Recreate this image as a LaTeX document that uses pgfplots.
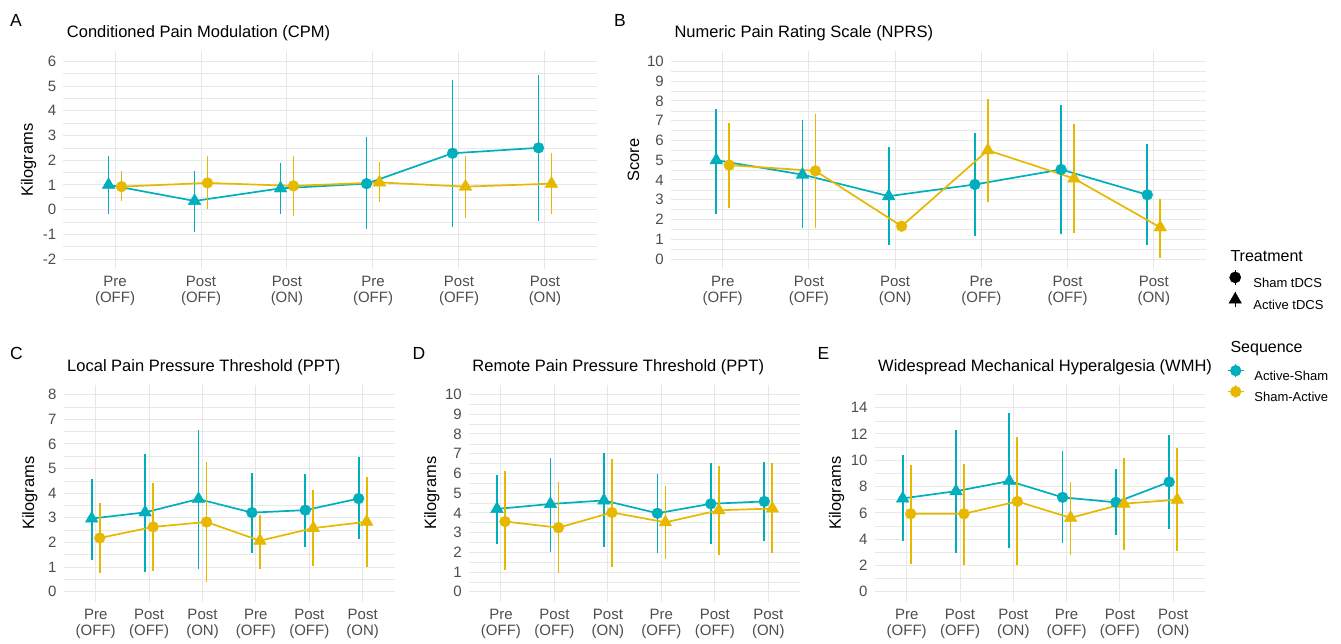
\documentclass[border=0pt]{standalone}
\usepackage{fontspec}
\setmainfont{Liberation Sans}
\usepackage{pgfplots}
\usepackage{pgfplotstable}
\pgfplotsset{compat=1.18}
\definecolor{tealc}{RGB}{0,175,187}
\definecolor{goldc}{RGB}{231,184,0}
\definecolor{gridc}{RGB}{232,232,232}
\definecolor{tickc}{RGB}{77,77,77}

% columns: xt xg  teal(y lo hi)  gold(y lo hi)
\pgfplotstableread{
xt xg ty tlo thi gy glo ghi
-0.075 0.075 1.00 -0.18 2.15 0.93 0.33 1.58
0.925 1.075 0.35 -0.90 1.55 1.08 0.01 2.18
1.925 2.075 0.86 -0.19 1.88 0.96 -0.26 2.15
2.925 3.075 1.05 -0.80 2.94 1.10 0.30 1.91
3.925 4.075 2.28 -0.69 5.24 0.93 -0.33 2.18
4.925 5.075 2.50 -0.45 5.45 1.05 -0.18 2.30
}\tabA
\pgfplotstableread{
xt xg ty tlo thi gy glo ghi
-0.075 0.075 5.00 2.26 7.60 4.75 2.59 6.89
0.925 1.075 4.27 1.55 7.02 4.46 1.55 7.32
1.925 2.075 3.18 0.71 5.67 1.66 1.45 1.87
2.925 3.075 3.77 1.16 6.38 5.50 2.90 8.10
3.925 4.075 4.53 1.25 7.78 4.07 1.33 6.82
4.925 5.075 3.25 0.70 5.80 1.60 0.05 3.05
}\tabB
\pgfplotstableread{
xt xg ty tlo thi gy glo ghi
-0.075 0.075 2.97 1.28 4.59 2.18 0.77 3.58
0.925 1.075 3.22 0.81 5.57 2.63 0.85 4.41
1.925 2.075 3.76 0.94 6.57 2.83 0.40 5.26
2.925 3.075 3.21 1.58 4.83 2.07 0.94 3.10
3.925 4.075 3.31 1.82 4.76 2.58 1.05 4.12
4.925 5.075 3.78 2.12 5.47 2.84 0.99 4.66
}\tabC
\pgfplotstableread{
xt xg ty tlo thi gy glo ghi
-0.075 0.075 4.20 2.42 5.93 3.56 1.10 6.10
0.925 1.075 4.45 2.03 6.78 3.25 0.93 5.59
1.925 2.075 4.63 2.25 7.03 4.02 1.27 6.73
2.925 3.075 3.98 1.95 5.98 3.52 1.64 5.34
3.925 4.075 4.46 2.42 6.53 4.13 1.86 6.39
4.925 5.075 4.58 2.59 6.56 4.22 1.95 6.53
}\tabD
\pgfplotstableread{
xt xg ty tlo thi gy glo ghi
-0.075 0.075 7.10 3.87 10.43 5.93 2.11 9.62
0.925 1.075 7.65 2.98 12.34 5.93 2.04 9.75
1.925 2.075 8.42 3.31 13.56 6.87 2.04 11.78
2.925 3.075 7.18 3.74 10.69 5.62 2.80 8.35
3.925 4.075 6.80 4.33 9.34 6.70 3.20 10.20
4.925 5.075 8.35 4.80 11.95 7.00 3.10 10.90
}\tabE

\pgfplotsset{
  panel/.style={
    scale only axis, anchor=south west,
    xmin=-0.6, xmax=5.6,
    xtick={0,1,2,3,4,5},
    xticklabels={{Pre\\(OFF)},{Post\\(OFF)},{Post\\(ON)},{Pre\\(OFF)},{Post\\(OFF)},{Post\\(ON)}},
    xticklabel style={align=center, font=\fontsize{15}{16.3}\selectfont, text=tickc, inner sep=0pt, yshift=-7pt},
    yticklabel style={font=\fontsize{15}{18}\selectfont, text=tickc, inner sep=0pt, xshift=-7pt},
    axis line style={draw=none},
    major tick length=0pt, minor tick length=0pt,
    xmajorgrids, ymajorgrids, yminorgrids,
    major grid style={draw=gridc, line width=1pt},
    minor grid style={draw=gridc, line width=0.55pt},
    minor y tick num=1,
    /pgf/number format/assume math mode=true,
    clip=false,
  },
  serline/.style={line width=1.7pt, mark=none,
    error bars/.cd, y dir=both, y explicit, error mark=none,
    error bar style={line width=1.7pt}},
  keyv/.style={legend image code/.code={
     \path (0pt,0pt) (16pt,0pt);
     \draw[##1, mark=none, line width=1.4pt] (8pt,-3pt) -- (8pt,12.4pt);
     \draw[##1, only marks] plot coordinates {(8pt,4.7pt)};}},
  keyx/.style={legend image code/.code={
     \draw[##1, mark=none, line width=1.4pt] (0pt,4.7pt) -- (16pt,4.7pt);
     \draw[##1, mark=none, line width=1.4pt] (8pt,-1.8pt) -- (8pt,11.2pt);
     \draw[##1, only marks] plot coordinates {(8pt,4.7pt)};}},
}

% draws both series of one panel: #1 = table
\newcommand{\series}[1]{%
  \addplot[tealc, serline] table[x=xt, y=ty,
     y error plus expr=\thisrow{thi}-\thisrow{ty},
     y error minus expr=\thisrow{ty}-\thisrow{tlo}] {#1};
  \addplot[goldc, serline] table[x=xg, y=gy,
     y error plus expr=\thisrow{ghi}-\thisrow{gy},
     y error minus expr=\thisrow{gy}-\thisrow{glo}] {#1};
  \addplot[tealc, only marks, mark=triangle*, mark size=7.3pt, restrict x to domain=-1:2.5] table[x=xt, y=ty] {#1};
  \addplot[tealc, only marks, mark=*, mark size=5.4pt, restrict x to domain=2.5:6] table[x=xt, y=ty] {#1};
  \addplot[goldc, only marks, mark=*, mark size=5.4pt, restrict x to domain=-1:2.5] table[x=xg, y=gy] {#1};
  \addplot[goldc, only marks, mark=triangle*, mark size=7.3pt, restrict x to domain=2.5:6] table[x=xg, y=gy] {#1};
}

\begin{document}
\begin{tikzpicture}[x=1pt,y=1pt]
\useasboundingbox (0,0) rectangle (1341,644);

% ---------- A ----------
\begin{axis}[panel, at={(63.4pt,375.1pt)}, width=533.2pt, height=217.4pt,
  ymin=-2.4, ymax=6.4, ytick={-2,-1,0,1,2,3,4,5,6}]
\series{\tabA}
\end{axis}
% ---------- B ----------
\begin{axis}[panel, at={(671pt,375.1pt)}, width=534.5pt, height=217.4pt,
  ymin=-0.5, ymax=10.5, ytick={0,1,2,3,4,5,6,7,8,9,10}]
\series{\tabB}
\end{axis}
% ---------- C ----------
\begin{axis}[panel, at={(63.7pt,42.4pt)}, width=331pt, height=216.9pt,
  ymin=-0.4, ymax=8.4, ytick={0,1,2,3,4,5,6,7,8}]
\series{\tabC}
\end{axis}
% ---------- D ----------
\begin{axis}[panel, at={(468.9pt,42.4pt)}, width=331.5pt, height=216.9pt,
  ymin=-0.5, ymax=10.5, ytick={0,1,2,3,4,5,6,7,8,9,10}]
\series{\tabD}
\end{axis}
% ---------- E ----------
\begin{axis}[panel, at={(874.7pt,42.4pt)}, width=330.5pt, height=216.9pt,
  ymin=-0.75, ymax=15.75, ytick={0,2,4,6,8,10,12,14}, minor ytick={1,3,5,7,9,11,13,15}]
\series{\tabE}
\end{axis}

% ---------- legends ----------
\begin{axis}[at={(0pt,0pt)}, anchor=south west, scale only axis, width=1341pt, height=644pt,
  xmin=0, xmax=1341, ymin=0, ymax=644, hide axis,
  legend style={at={(axis cs:1227,375)}, anchor=north west, draw=none, fill=none,
    inner sep=0pt, outer sep=0pt, row sep=0pt, column sep=8pt,
    font=\fontsize{13}{15}\selectfont, legend cell align=left}]
\addlegendimage{black, mark=*, mark size=5.6pt, keyv}
\addlegendentry{\rule[-5.3pt]{0pt}{18pt}Sham tDCS}
\addlegendimage{black, mark=triangle*, mark size=7.2pt, keyv}
\addlegendentry{\rule[-5.3pt]{0pt}{18pt}Active tDCS}
\end{axis}
\begin{axis}[at={(0pt,0pt)}, anchor=south west, scale only axis, width=1341pt, height=644pt,
  xmin=0, xmax=1341, ymin=0, ymax=644, hide axis,
  legend style={at={(axis cs:1227,280.5)}, anchor=north west, draw=none, fill=none,
    inner sep=0pt, outer sep=0pt, row sep=0pt, column sep=8pt,
    font=\fontsize{13}{15}\selectfont, legend cell align=left}]
\addlegendimage{tealc, mark=*, mark size=5.4pt, keyx}
\addlegendentry{\rule[-5.3pt]{0pt}{18pt}Active-Sham}
\addlegendimage{goldc, mark=*, mark size=5.4pt, keyx}
\addlegendentry{\rule[-5.3pt]{0pt}{18pt}Sham-Active}
\end{axis}

% ---------- texts ----------
\node[anchor=west, font=\fontsize{16}{19}\selectfont] at (1227,388.3) {Treatment};
\node[anchor=west, font=\fontsize{16}{19}\selectfont] at (1227,295) {Sequence};

\begin{scope}[every node/.style={font=\fontsize{17.5}{20}\selectfont}]
\node at (16,624) {A};
\node at (620,624) {B};
\node at (16.5,291) {C};
\node at (419,291) {D};
\node at (823.5,291) {E};
\end{scope}
\begin{scope}[every node/.style={anchor=west, font=\fontsize{16.5}{19}\selectfont}]
\node at (63.4,611) {Conditioned Pain Modulation (CPM)};
\node at (671,611) {Numeric Pain Rating Scale (NPRS)};
\node at (63.7,277) {Local Pain Pressure Threshold (PPT)};
\node at (468.9,277) {Remote Pain Pressure Threshold (PPT)};
\node at (874.7,277) {Widespread Mechanical Hyperalgesia (WMH)};
\end{scope}
\begin{scope}[every node/.style={rotate=90, font=\fontsize{16.4}{19}\selectfont}]
\node at (28.6,483.8) {Kilograms};
\node at (633.5,483.8) {Score};
\node at (30,150.8) {Kilograms};
\node at (432,150.8) {Kilograms};
\node at (836.7,150.8) {Kilograms};
\end{scope}
\end{tikzpicture}
\end{document}
